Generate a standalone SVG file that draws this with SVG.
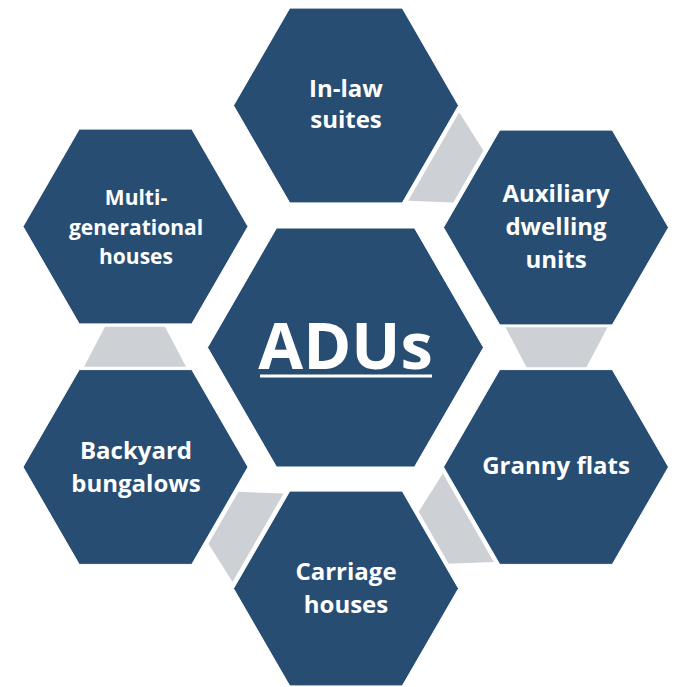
<svg xmlns="http://www.w3.org/2000/svg" xmlns:xlink="http://www.w3.org/1999/xlink" width="675" height="687" viewBox="0 0 675 687">
<style>
.hex{fill:#284d72;stroke:#ffffff;stroke-width:1}
.conn{fill:#cdd0d5}
.lbl{font-family:"Open Sans","Liberation Sans",sans-serif;font-weight:700;fill:#ffffff;text-anchor:middle;font-size:24px}
.sm{font-size:21px}
.big{font-size:65px}
</style>
<defs>
<polygon id="hexO" points="-112.5,0 -56.25,-97.4 56.25,-97.4 112.5,0 56.25,97.4 -56.25,97.4"/>
<polygon id="trap" points="-51,-20 51,-20 30,20 -30,20"/>
</defs>
<rect width="675" height="687" fill="#ffffff"/>
<g id="connectors">
<use xlink:href="#trap" class="conn" transform="translate(451,166.5) rotate(-60)"/>
<use xlink:href="#trap" class="conn" transform="translate(556.5,347.25)"/>
<use xlink:href="#trap" class="conn" transform="translate(451,527.75) rotate(60)"/>
<use xlink:href="#trap" class="conn" transform="translate(240.75,527.75) rotate(120)"/>
<use xlink:href="#trap" class="conn" transform="translate(135,346.75) rotate(180)"/>
</g>
<g id="center">
<polygon class="hex" points="207.5,347.5 276.5,228 414.5,228 483.5,347.5 414.5,467 276.5,467"/>
<text class="lbl big" x="345.5" y="369">ADUs</text>
<line x1="260" y1="376" x2="432" y2="376" stroke="#ffffff" stroke-width="3"/>
</g>
<g id="inlaw">
<use xlink:href="#hexO" class="hex" transform="translate(346,105.5)"/>
<text class="lbl" x="346" y="96.5">In-law</text>
<text class="lbl" x="346" y="128">suites</text>
</g>
<g id="auxiliary">
<use xlink:href="#hexO" class="hex" transform="translate(556,227.5)"/>
<text class="lbl" x="556" y="201.5">Auxiliary</text>
<text class="lbl" x="556" y="234.5">dwelling</text>
<text class="lbl" x="556" y="267.5">units</text>
</g>
<g id="granny">
<use xlink:href="#hexO" class="hex" transform="translate(556,467)"/>
<text class="lbl" x="556" y="474">Granny flats</text>
</g>
<g id="carriage">
<use xlink:href="#hexO" class="hex" transform="translate(346,588.5)"/>
<text class="lbl" x="346" y="580">Carriage</text>
<text class="lbl" x="346" y="613">houses</text>
</g>
<g id="backyard">
<use xlink:href="#hexO" class="hex" transform="translate(135.5,467)"/>
<text class="lbl" x="136" y="459">Backyard</text>
<text class="lbl" x="136" y="491.5">bungalows</text>
</g>
<g id="multi">
<use xlink:href="#hexO" class="hex" transform="translate(135.5,226.5)"/>
<text class="lbl sm" x="136" y="205">Multi-</text>
<text class="lbl sm" x="136" y="235">generational</text>
<text class="lbl sm" x="136" y="264">houses</text>
</g>
</svg>
